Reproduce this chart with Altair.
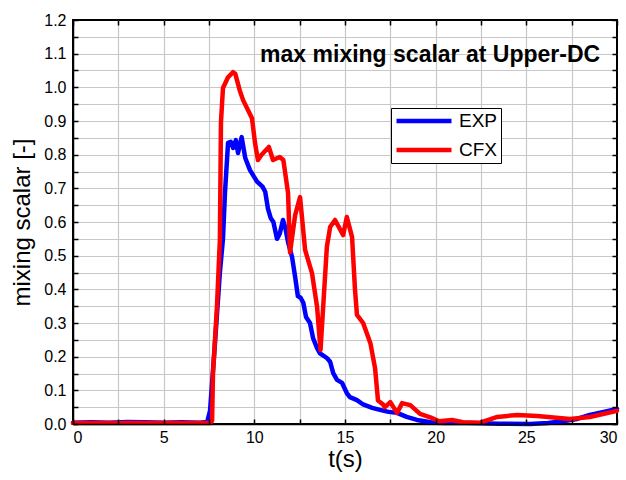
import altair as alt
import pandas as pd

# ---- data ----
t_exp = [0, 1, 2, 3, 4, 5, 6, 7, 7.4, 7.56, 7.83, 8.1, 8.27, 8.38, 8.55, 8.7, 8.83, 8.98, 9.1, 9.3,
         9.5, 9.76, 10.15, 10.45, 10.6, 10.75, 10.9, 11.05, 11.25, 11.4, 11.58, 11.72, 11.86, 12.08,
         12.25, 12.4, 12.55, 12.7, 12.85, 13.07, 13.24, 13.46, 13.62, 14.0, 14.18, 14.35, 14.56,
         14.84, 15.1, 15.27, 15.66, 16.0, 16.5, 16.93, 17.4, 17.87, 18.4, 18.97, 19.4, 19.86, 20.5,
         21.7, 22.45, 23.5, 25.2, 26.2, 27.0, 27.8, 28.5, 29.2, 30]
v_exp = [0.004, 0.005, 0.004, 0.006, 0.005, 0.004, 0.005, 0.004, 0.006, 0.04, 0.24, 0.45, 0.55, 0.686,
         0.835, 0.838, 0.82, 0.843, 0.805, 0.852, 0.79, 0.754, 0.72, 0.705, 0.69, 0.64, 0.612, 0.60,
         0.55, 0.565, 0.606, 0.58, 0.54, 0.496, 0.437, 0.38, 0.375, 0.36, 0.318, 0.30, 0.255, 0.225,
         0.21, 0.196, 0.185, 0.151, 0.131, 0.122, 0.092, 0.08, 0.071, 0.058, 0.048, 0.042, 0.036,
         0.033, 0.021, 0.012, 0.008, 0.004, 0.003, 0.003, 0.002, 0.001, 0.0, 0.003, 0.008, 0.015,
         0.027, 0.035, 0.045]

t_cfx = [0, 2, 4, 6, 7.6, 7.67, 7.72, 7.94, 8.1, 8.16, 8.27, 8.55, 8.83, 8.95, 9.2, 9.38, 9.87, 10.04,
         10.2, 10.4, 10.8, 11.03, 11.4, 11.6, 11.86, 11.97, 12.25, 12.52, 12.8, 13.18, 13.46, 13.65,
         14.0, 14.18, 14.45, 14.9, 15.1, 15.39, 15.55, 15.66, 16.0, 16.4, 16.66, 16.82, 17.1, 17.2,
         17.5, 17.87, 18.15, 18.6, 19.14, 19.7, 20.2, 20.9, 21.5, 22.45, 23.4, 24.5, 25.6, 27.4, 28.5,
         30]
v_cfx = [0.003, 0.003, 0.003, 0.003, 0.003, 0.01, 0.15, 0.35, 0.547, 0.897, 0.998, 1.03, 1.045, 1.04,
         0.99, 0.962, 0.908, 0.834, 0.784, 0.80, 0.823, 0.784, 0.793, 0.784, 0.686, 0.51, 0.62, 0.674,
         0.517, 0.448, 0.348, 0.22, 0.526, 0.585, 0.606, 0.561, 0.615, 0.555, 0.40, 0.324, 0.30, 0.24,
         0.165, 0.07, 0.058, 0.05, 0.065, 0.033, 0.062, 0.056, 0.03, 0.02, 0.008, 0.012, 0.005, 0.004,
         0.021, 0.027, 0.024, 0.015, 0.021, 0.039]

series_names = ["EXP", "CFX"]
series_colors = ["#0000ff", "#ff0000"]
x_label_values = [0, 5, 10, 15, 20, 25, 30]
x_minor_values = [0, 2.5, 5, 7.5, 10, 12.5, 15, 17.5, 20, 22.5, 25, 27.5, 30]
x_grid_values = [2.5, 5, 7.5, 10, 12.5, 15, 17.5, 20, 22.5, 25, 27.5]
y_label_values = [0.0, 0.1, 0.2, 0.3, 0.4, 0.5, 0.6, 0.7, 0.8, 0.9, 1.0, 1.1, 1.2]
y_minor_values = [round(i * 0.05, 2) for i in range(25)]
y_grid_values = [round(i * 0.05, 2) for i in range(1, 24)]
title_text = "max mixing scalar at Upper-DC"

df = pd.DataFrame({
    "t": t_exp + t_cfx,
    "v": v_exp + v_cfx,
    "series": ["EXP"] * len(t_exp) + ["CFX"] * len(t_cfx),
})

FONT = "Liberation Sans"
xs = alt.Scale(domain=[0, 30], nice=False, zero=False)
ys = alt.Scale(domain=[0, 1.2], nice=False, zero=False)

legend = alt.Legend(
    orient="none", legendX=318, legendY=88, title=None,
    symbolType="stroke", symbolSize=3025, symbolStrokeWidth=4.5,
    labelFontSize=19, labelFont=FONT, labelColor="black", labelOffset=5,
    padding=3, rowPadding=9, clipHeight=20, strokeColor="black", fillColor="white",
)
color = alt.Color("series:N", scale=alt.Scale(domain=series_names, range=series_colors), legend=legend)

base = alt.Chart(df)

tick_common = dict(grid=False, labels=False, ticks=True, tickSize=5, tickWidth=1.5, tickColor="black",
                   offset=-5, domain=False, title=None, zindex=1)

grid = base.mark_line(opacity=0).encode(
    x=alt.X("t:Q", scale=xs, axis=alt.Axis(orient="bottom", values=x_grid_values, grid=True, labels=False,
                                           ticks=False, domain=False, title=None, gridColor="#c8c8c8",
                                           gridWidth=1.2, zindex=0)),
    y=alt.Y("v:Q", scale=ys, axis=alt.Axis(orient="left", values=y_grid_values, grid=True, labels=False,
                                           ticks=False, domain=False, title=None, gridColor="#c8c8c8",
                                           gridWidth=1.2, zindex=0)),
    detail="series:N",
)

exp = base.transform_filter(alt.datum.series == "EXP").mark_line(
    strokeWidth=4.5, strokeJoin="round", strokeCap="round").encode(
    x=alt.X("t:Q", scale=xs, axis=alt.Axis(orient="bottom", values=x_label_values, grid=False, ticks=False,
                                           domain=True, domainColor="black", domainWidth=1.5,
                                           labelFontSize=16, labelFont=FONT, labelColor="black",
                                           labelPadding=5, title="t(s)", titleFontSize=24,
                                           titleFont=FONT, titleFontWeight="normal", titleColor="black",
                                           titlePadding=2, zindex=1)),
    y=alt.Y("v:Q", scale=ys, axis=alt.Axis(orient="left", values=y_label_values, format=".1f", grid=False,
                                           ticks=False, domain=True, domainColor="black", domainWidth=1.5,
                                           labelFontSize=16, labelFont=FONT,
                                           labelColor="black", labelPadding=7, title="mixing scalar [-]",
                                           titleFontSize=24, titleFont=FONT, titleFontWeight="normal",
                                           titleColor="black", titlePadding=9, zindex=1)),
    color=color,
)

cfx = base.transform_filter(alt.datum.series == "CFX").mark_line(
    strokeWidth=4.5, strokeJoin="round", strokeCap="round").encode(
    x=alt.X("t:Q", scale=xs, axis=alt.Axis(orient="bottom", values=x_minor_values, **tick_common)),
    y=alt.Y("v:Q", scale=ys, axis=alt.Axis(orient="left", values=y_minor_values, **tick_common)),
    color=color,
)

frame = base.mark_line(opacity=0).encode(
    x=alt.X("t:Q", scale=xs, axis=alt.Axis(orient="top", values=x_minor_values, **tick_common)),
    y=alt.Y("v:Q", scale=ys, axis=alt.Axis(orient="right", values=y_minor_values, **tick_common)),
    detail="series:N",
)

label = alt.Chart(pd.DataFrame({"row": [0]})).mark_text(
    align="right", baseline="alphabetic", fontSize=23, fontWeight="bold", font=FONT, color="black"
).encode(
    x=alt.XDatum(29.07, scale=xs, axis=None),
    y=alt.YDatum(1.075, scale=ys, axis=None),
    text=alt.value(title_text),
)

chart = alt.layer(grid, exp, cfx, frame, label).resolve_axis(
    x="independent", y="independent"
).properties(
    width=544, height=404,
    autosize=alt.AutoSizeParams(type="none"),
    padding={"left": 73, "top": 20, "right": 9, "bottom": 56},
).configure(background="white").configure_view(stroke="black", strokeWidth=2)

chart.save("out.html", embed_options={"renderer": "svg", "actions": False})
